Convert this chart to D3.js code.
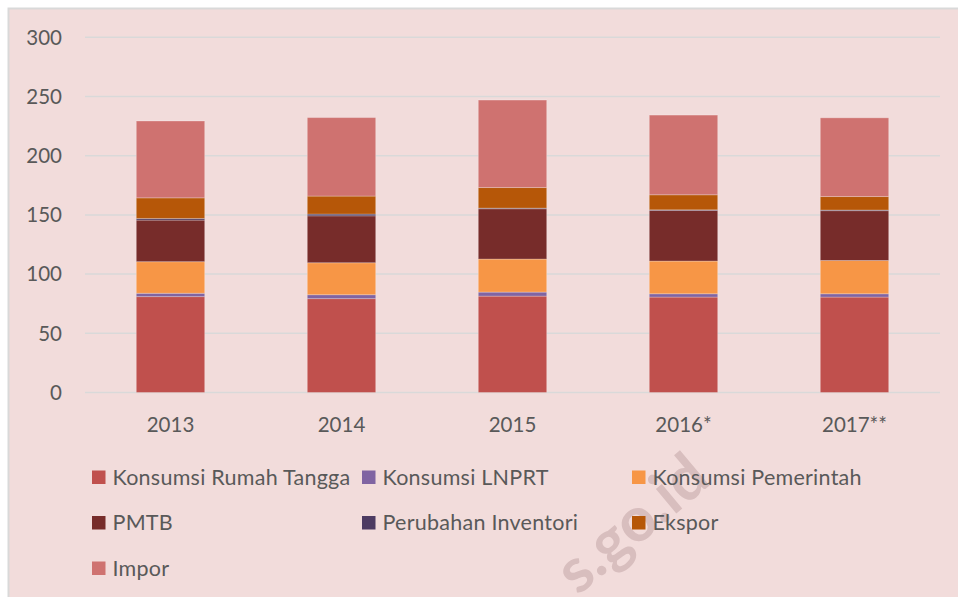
<!DOCTYPE html>
<html>
<head>
<meta charset="utf-8">
<script src="https://cdn.jsdelivr.net/npm/d3@7"></script>
<style>
  html, body { margin: 0; padding: 0; background: #fff; }
  svg { display: block; font-family: Lato, "Open Sans", sans-serif; }
</style>
</head>
<body>
<svg id="chart" width="958" height="597"></svg>
<script>
// years on the x axis
const years = ["2013", "2014", "2015", "2016*", "2017**"];

// series, stacked bottom to top
const seriesNames = [
  "Konsumsi Rumah Tangga", "Konsumsi LNPRT", "Konsumsi Pemerintah",
  "PMTB", "Perubahan Inventori", "Ekspor", "Impor"
];
const seriesColors = ["#C0504D", "#8064A2", "#F79646", "#772C2A", "#4D3B62", "#B65708", "#CF7270"];

const rumahTangga = [81.0, 79.3, 81.4, 80.6, 80.6];
const lnprt       = [2.8, 3.3, 3.4, 2.8, 2.8];
const pemerintah  = [26.7, 27.0, 27.9, 27.6, 28.1];
const pmtb        = [35.1, 39.6, 42.5, 42.8, 42.1];
const inventori   = [1.4, 1.5, 0.5, 0.5, 0.5];
const ekspor      = [17.4, 15.2, 17.4, 12.7, 11.4];
const impor       = [64.9, 66.3, 73.9, 67.3, 66.5];

const yTicks = [0, 50, 100, 150, 200, 250, 300];

const allValues = [rumahTangga, lnprt, pemerintah, pmtb, inventori, ekspor, impor];
const rows = years.map((yr, i) => {
  const r = { year: yr };
  seriesNames.forEach((s, k) => { r[s] = allValues[k][i]; });
  return r;
});

const svg = d3.select("#chart");
const textCol = "#595959";

// chart area background + frame
svg.append("rect")
  .attr("x", 8.5).attr("y", 8.5)
  .attr("width", 970).attr("height", 610)
  .attr("fill", "#F2DCDB")
  .attr("stroke", "#D9D9D9")
  .attr("stroke-width", 2);

// faint watermark (behind everything)
svg.append("text")
  .attr("transform", "translate(578,596) rotate(-40)")
  .attr("font-size", 62)
  .attr("font-weight", "bold")
  .attr("fill", "#D8BEBE")
  .text("s.go.id");

const plot = { left: 85, right: 940, top: 37.3, bottom: 392.5 };

const x = d3.scaleBand()
  .domain(years)
  .range([plot.left, plot.right])
  .paddingInner(0.6)
  .paddingOuter(0.3);

const y = d3.scaleLinear()
  .domain([0, 300])
  .range([plot.bottom, plot.top]);

// gridlines
svg.append("g")
  .selectAll("line")
  .data(yTicks)
  .enter()
  .append("line")
  .attr("x1", plot.left).attr("x2", plot.right)
  .attr("y1", d => y(d)).attr("y2", d => y(d))
  .attr("stroke", "#D9D9D9")
  .attr("stroke-width", 1.5);

// y labels
svg.append("g")
  .selectAll("text")
  .data(yTicks)
  .enter()
  .append("text")
  .attr("x", 62)
  .attr("y", d => y(d))
  .attr("dy", "0.36em")
  .attr("text-anchor", "end")
  .attr("font-size", 20.5)
  .attr("fill", textCol)
  .text(d => d);

// x labels
svg.append("g")
  .selectAll("text")
  .data(years)
  .enter()
  .append("text")
  .attr("x", d => x(d) + x.bandwidth() / 2)
  .attr("y", 431.5)
  .attr("text-anchor", "middle")
  .attr("font-size", 20.5)
  .attr("fill", textCol)
  .text(d => d);

// stacked bars
const stacked = d3.stack().keys(seriesNames)(rows);

svg.append("g")
  .selectAll("g")
  .data(stacked)
  .enter()
  .append("g")
  .attr("fill", (d, i) => seriesColors[i])
  .selectAll("rect")
  .data(d => d)
  .enter()
  .append("rect")
  .attr("x", d => x(d.data.year))
  .attr("y", d => y(d[1]))
  .attr("width", x.bandwidth())
  .attr("height", d => y(d[0]) - y(d[1]))
  .attr("stroke", "rgba(255,255,255,0.25)")
  .attr("stroke-width", 1);

// legend, 3 columns
const legend = svg.append("g")
  .selectAll("g")
  .data(seriesNames)
  .enter()
  .append("g")
  .attr("transform", (d, i) => `translate(${92 + (i % 3) * 270},${470.5 + Math.floor(i / 3) * 45.5})`);

legend.append("rect")
  .attr("width", 13.5).attr("height", 13.5)
  .attr("fill", (d, i) => seriesColors[i]);

legend.append("text")
  .attr("x", 20.5)
  .attr("y", 14)
  .attr("font-size", 21.5)
  .attr("letter-spacing", 0.25)
  .attr("fill", textCol)
  .text(d => d);
</script>
</body>
</html>
